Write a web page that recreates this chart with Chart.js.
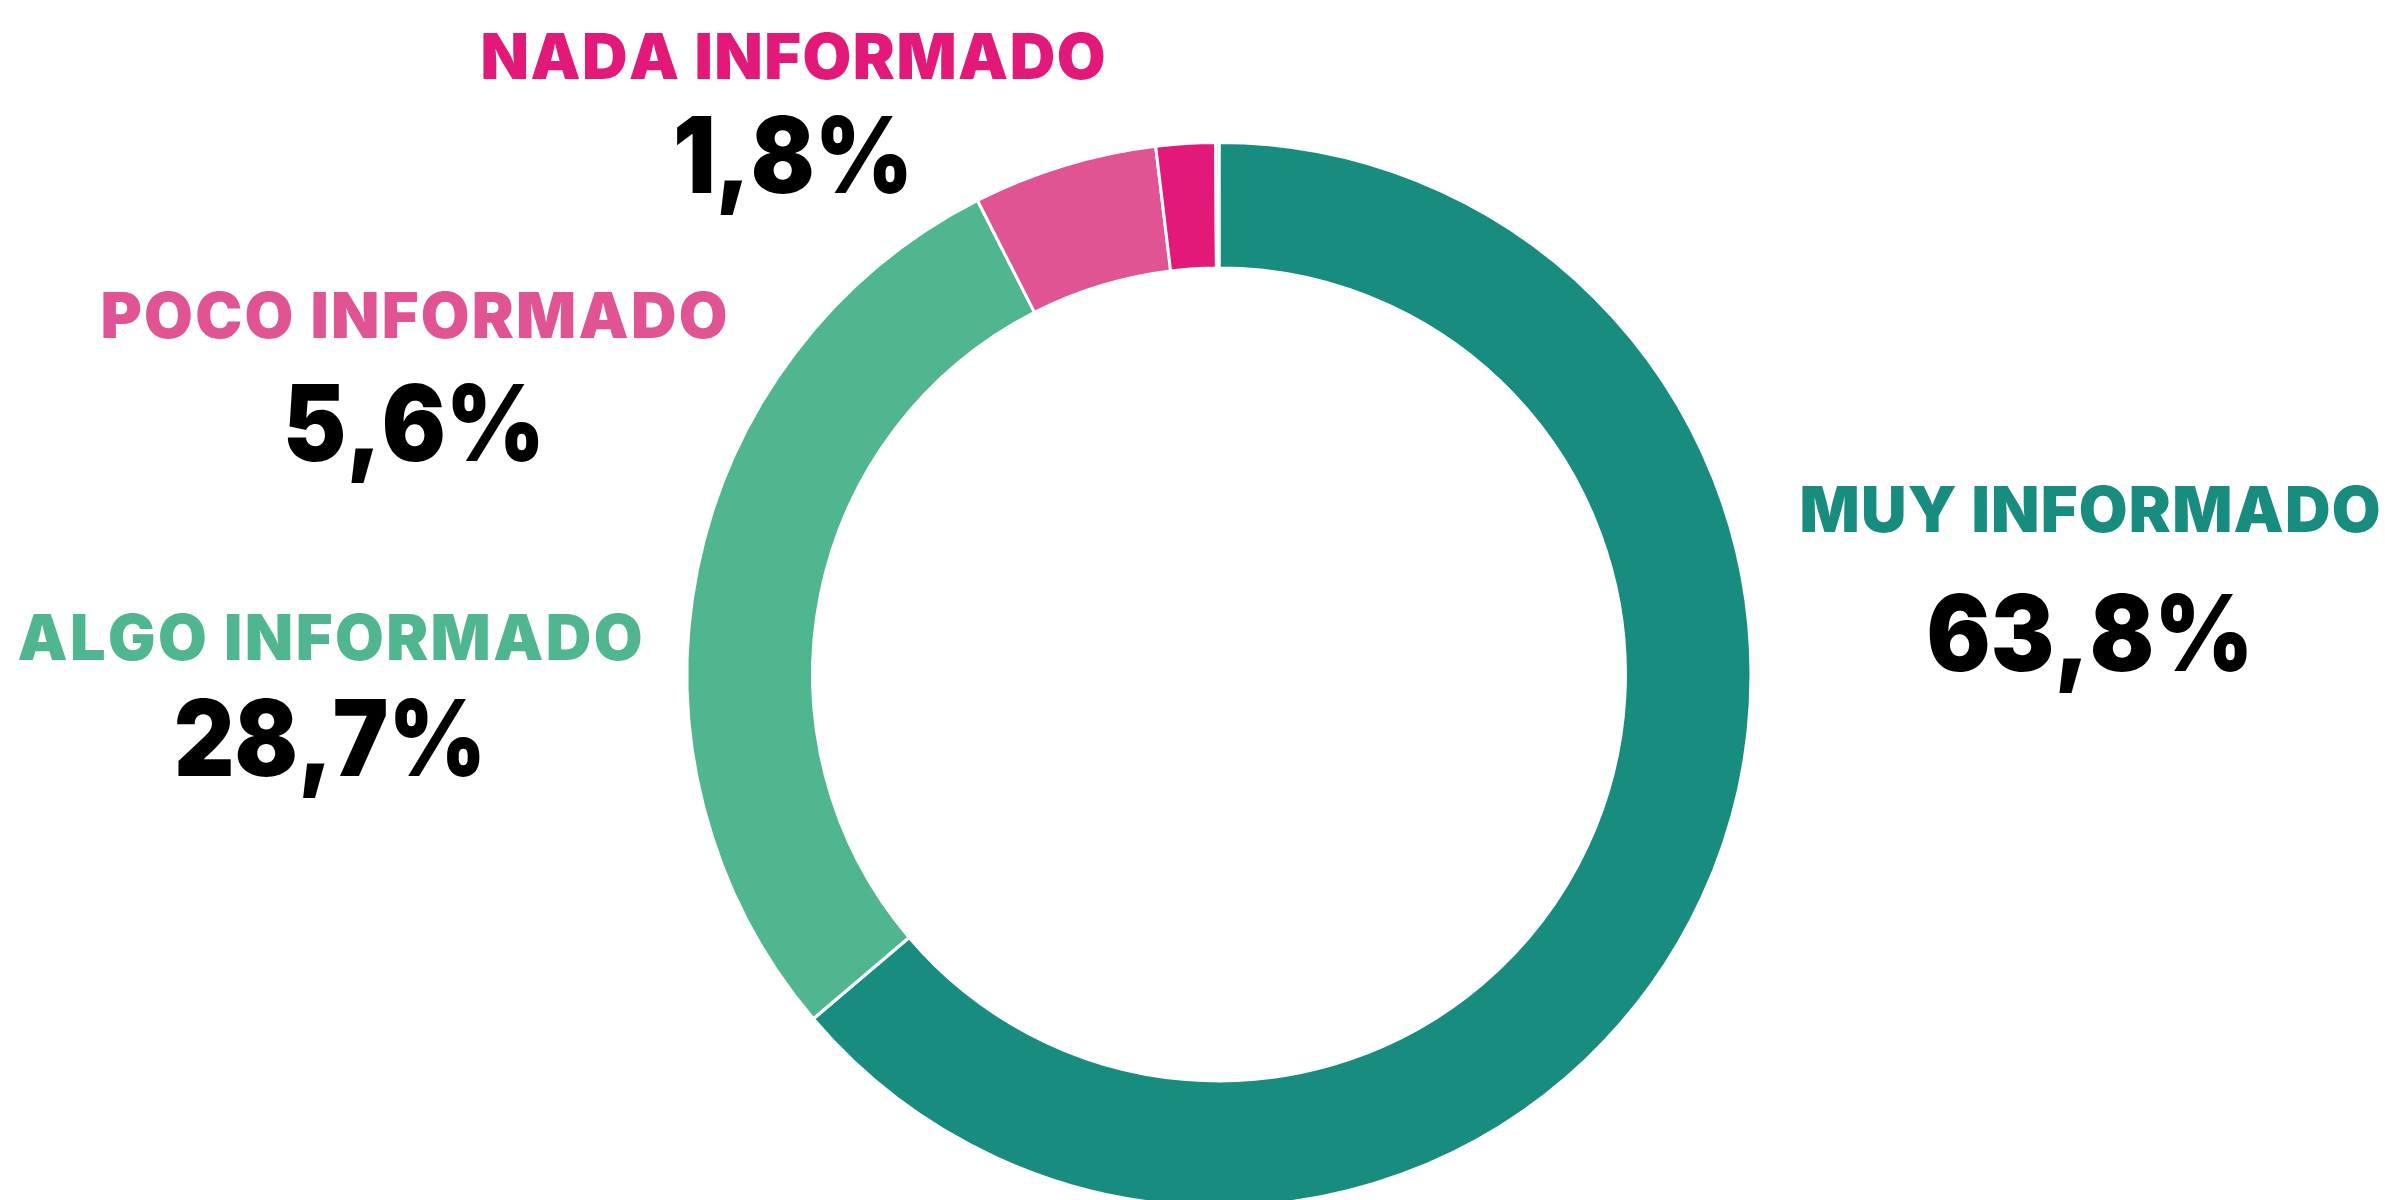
<!DOCTYPE html>
<html>
<head>
<meta charset="utf-8">
<title>Nivel de información</title>
<script src="https://cdn.jsdelivr.net/npm/chart.js@4"></script>
<style>
  html, body { margin: 0; padding: 0; background: #fff; overflow: hidden; }
  #wrap { position: relative; width: 2385px; height: 1200px; }
</style>
</head>
<body>
<div id="wrap"><canvas id="donutChart"></canvas></div>
<script>
  // categories and shares (%), clockwise from 12 o'clock
  var categories = ["MUY INFORMADO", "ALGO INFORMADO", "POCO INFORMADO", "NADA INFORMADO", "NS/NC"];
  var shares = [63.8, 28.7, 5.6, 1.8, 0.1];
  var sliceColors = ["#188c7f", "#4fb690", "#e05494", "#e3197a", "#b4b4b4"];

  // where each category's caption sits (the last slice has none)
  var captionSpots = [
    { x: 2090, titleBase: 532, titleWidth: 581, valueBase: 671, valueWidth: 327 },
    { x: 330,  titleBase: 660, titleWidth: 625, valueBase: 776, valueWidth: 312 },
    { x: 414,  titleBase: 338, titleWidth: 627, valueBase: 461, valueWidth: 262 },
    { x: 793,  titleBase: 79,  titleWidth: 625, valueBase: 193, valueWidth: 240 },
    null
  ];

  var FONT = "Inter, 'Liberation Sans', Arial, sans-serif";

  // draws a string char by char so it spans the given width
  function spreadText(ctx, text, cx, base, width) {
    var widths = [];
    var total = 0;
    for (var i = 0; i < text.length; i++) {
      var w = ctx.measureText(text[i]).width;
      widths.push(w);
      total += w;
    }
    var gap = text.length > 1 ? (width - total) / (text.length - 1) : 0;
    var sx = 1;
    if (gap < 0) { sx = width / total; gap = 0; }
    ctx.save();
    ctx.translate(cx - width / 2, base);
    ctx.scale(sx, 1);
    var x = 0;
    for (var j = 0; j < text.length; j++) {
      ctx.fillText(text[j], x, 0);
      x += widths[j] + gap / sx;
    }
    ctx.restore();
  }

  var captionPlugin = {
    id: 'captions',
    afterDraw: function(chart) {
      var ctx = chart.ctx;
      ctx.save();
      ctx.textAlign = 'left';
      ctx.textBaseline = 'alphabetic';
      categories.forEach(function(name, i) {
        var spot = captionSpots[i];
        if (!spot) return;
        ctx.fillStyle = sliceColors[i];
        ctx.font = "900 63px " + FONT;
        spreadText(ctx, name, spot.x, spot.titleBase, spot.titleWidth);
        ctx.fillStyle = "#000";
        ctx.font = "900 106px " + FONT;
        var txt = shares[i].toFixed(1).replace('.', ',') + '%';
        spreadText(ctx, txt, spot.x, spot.valueBase, spot.valueWidth);
      });
      ctx.restore();
    }
  };

  var ctxD = document.getElementById("donutChart").getContext('2d');
  var myDonut = new Chart(ctxD, {
    type: 'doughnut',
    data: {
      labels: categories,
      datasets: [{
        data: shares,
        backgroundColor: sliceColors,
        borderColor: '#ffffff',
        borderWidth: 3
      }]
    },
    options: {
      responsive: true,
      maintainAspectRatio: false,
      animation: false,
      radius: 532,
      cutout: '76.4%',
      layout: { padding: { top: 149, bottom: 0, left: 53, right: 0 } },
      plugins: {
        legend: { display: false },
        tooltip: { enabled: false }
      }
    },
    plugins: [captionPlugin]
  });
</script>
</body>
</html>
